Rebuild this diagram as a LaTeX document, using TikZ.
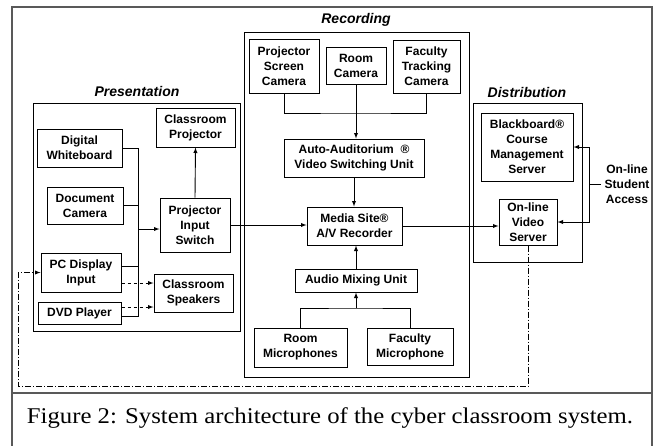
\documentclass[tikz,border=0pt]{standalone}
\usepackage{fontspec}
\setmainfont{Liberation Sans}
\newfontfamily\capfont[FakeStretch=1.1]{Liberation Serif}
\usetikzlibrary{calc}

\begin{document}
\begin{tikzpicture}[x=1pt, y=-1pt,
    box/.style={draw, line width=1pt, align=center, inner sep=0pt,
      font=\fontsize{12}{15}\selectfont\bfseries},
    grp/.style={draw, line width=1pt},
    grplabel/.style={font=\fontsize{14}{16}\selectfont\bfseries\itshape},
    link/.style={line width=0.9pt},
    arr/.style={link, -latex},
    dasharr/.style={link, dashed, -latex},
    dashdot/.style={line width=0.8pt, dash pattern=on 6pt off 2pt on 1pt off 2pt}]
      \useasboundingbox (0,0) rectangle (656,445);

      % outer frame and caption
      \draw[line width=1.5pt, gray!70!black] (12,446) -- (12,7) -- (652,7) -- (652,446);
      \draw[line width=1.5pt, gray!70!black] (12,393) -- (652,393);
      \node[font=\capfont\fontsize{22.5}{26}\selectfont] (caption) at (330,418)
        {Figure 2: System architecture of the cyber classroom system.};

      % groups
      \draw[grp] (33,103) rectangle (240,331);
      \node[grplabel] (preslabel) at (137,91) {Presentation};
      \draw[grp] (244,32) rectangle (469,377);
      \node[grplabel] (reclabel) at (356,20) {Recording};
      \draw[grp] (473,103) rectangle (582,262);
      \node[grplabel] (distlabel) at (527,92) {Distribution};

      % presentation
      \node[box, minimum width=85, minimum height=38] (wb) at (79.5,148) {Digital\\Whiteboard};
      \node[box, minimum width=76, minimum height=37] (doc) at (85,205.5) {Document\\Camera};
      \node[box, minimum width=80, minimum height=39] (pc) at (81,272.5) {PC Display\\Input};
      \node[box, minimum width=83, minimum height=22] (dvd) at (79.5,313) {DVD Player};
      \node[box, minimum width=79, minimum height=39] (proj) at (195.5,127.5) {Classroom\\Projector};
      \node[box, minimum width=70, minimum height=54] (switch) at (195,225) {Projector\\Input\\Switch};
      \node[box, minimum width=79, minimum height=38] (spk) at (193.5,293) {Classroom\\Speakers};

      % recording
      \node[box, minimum width=70, minimum height=54] (pscam) at (284,66) {Projector\\Screen\\Camera};
      \node[box, minimum width=60, minimum height=37] (rcam) at (356,65.5) {Room\\Camera};
      \node[box, minimum width=67, minimum height=53] (ftcam) at (426.5,66.5) {Faculty\\Tracking\\Camera};
      \node[box, minimum width=140, minimum height=38] (auto) at (354,158) {Auto-Auditorium\ \ ®\\Video Switching Unit};
      \node[box, minimum width=95, minimum height=38] (media) at (354.5,226) {Media Site®\\A/V Recorder};
      \node[box, minimum width=122, minimum height=23] (mix) at (356,280.5) {Audio Mixing Unit};
      \node[box, minimum width=93, minimum height=39] (rmic) at (300.5,347.5) {Room\\Microphones};
      \node[box, minimum width=86, minimum height=37] (fmic) at (410,346.5) {Faculty\\Microphone};

      % distribution
      \node[box, minimum width=92, minimum height=68] (bb) at (527,147) {Blackboard®\\Course\\Management\\Server};
      \node[box, minimum width=58, minimum height=46] (vserver) at (528,222) {On-line\\Video\\Server};
      \node[font=\fontsize{12}{15}\selectfont\bfseries, align=center] (access) at (627,184) {On-line\\Student\\Access};

      \coordinate (bus) at (138,229);
      \coordinate (cammerge) at (356,113);
      \coordinate (micmerge) at (356,308);
      \coordinate (acc) at (589,184);
      \coordinate (loopcorner) at (18,386);

      % presentation wiring
      \draw[link] (wb.east) -| ($(bus |- dvd.east)+(0,3)$) -- ([yshift=-3pt]dvd.east);
      \draw[link] (doc.east) -- (doc.east -| bus);
      \draw[link] ([yshift=6.5pt]pc.east) -- ([yshift=6.5pt]pc.east -| bus);
      \draw[arr] (bus) -- (bus -| switch.west);
      \draw[arr] (switch.north) -- (proj.south);
      \draw[dasharr] ([yshift=-10.5pt]pc.east) -- ([yshift=-10.5pt]pc.east -| spk.west);
      \draw[dasharr] ([yshift=6pt]dvd.east) -- ([yshift=6pt]dvd.east -| spk.west);
      \draw[arr] (switch.east) -- (switch.east -| media.west);

      % recording wiring
      \draw[link] (pscam.south) |- (cammerge) -| (ftcam.south);
      \draw[arr] (rcam.south) -- (rcam.south |- auto.north);
      \draw[arr] (auto.south) -- (auto.south |- media.north);
      \draw[link] (rmic.north) |- (micmerge) -| (fmic.north);
      \draw[arr] (micmerge) -- (mix.south);
      \draw[arr] (mix.north) -- (mix.north |- media.south);
      \draw[arr] (media.east) -- (media.east -| vserver.west);

      % distribution wiring
      \draw[link] (access.west) -- (acc);
      \draw[arr] (acc) |- (bb.east);
      \draw[arr] (acc) |- (vserver.east);
      \draw[dashdot] (vserver.south) |- (loopcorner) |- ($(pc.west)+(-4,0)$);
      \draw[arr] ($(pc.west)+(-5,0)$) -- (pc.west);
    \end{tikzpicture}
\end{document}
